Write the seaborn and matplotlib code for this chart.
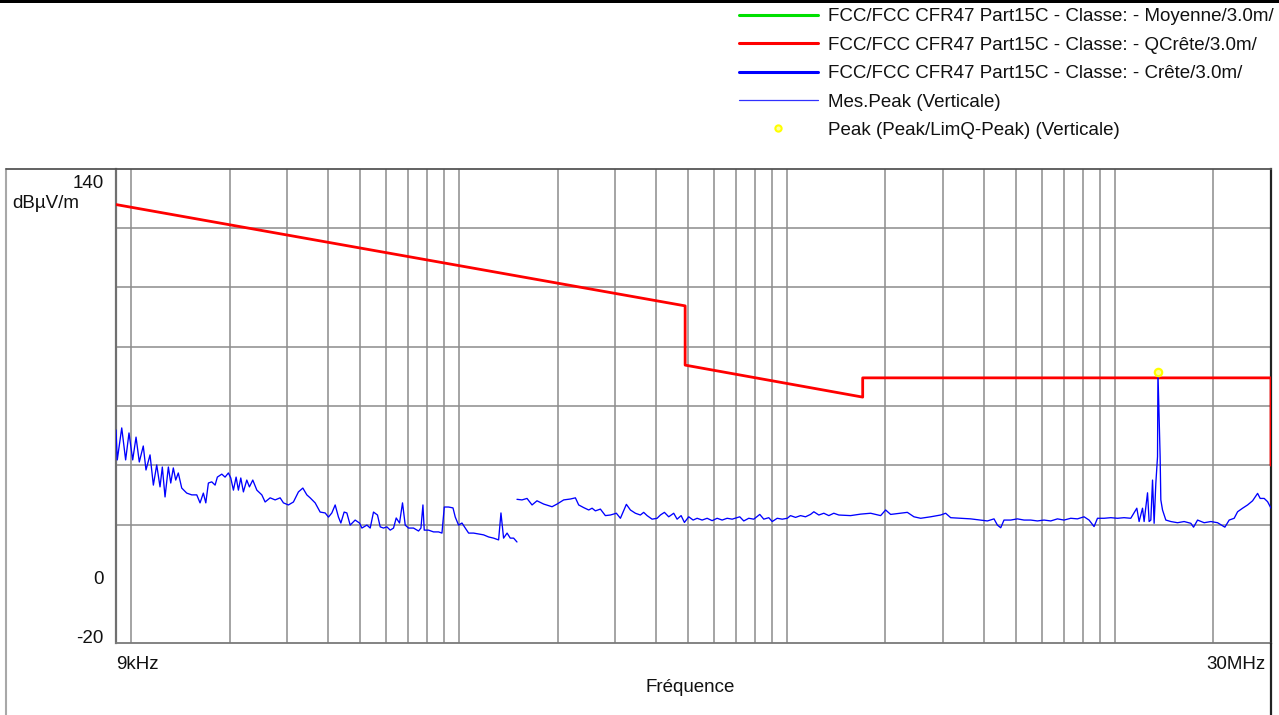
import numpy as np
import pandas as pd
import matplotlib
matplotlib.use("Agg")
import matplotlib.pyplot as plt
import matplotlib.transforms as mtransforms
import seaborn as sns
from matplotlib.lines import Line2D
from matplotlib.patches import Rectangle
from matplotlib.ticker import FixedLocator, LogLocator, MultipleLocator, NullFormatter

# ---------------- data ----------------
# FCC Part 15C quasi-peak limit (frequency in kHz, level in dBuV/m)
limit_freq_khz = [9, 490, 490, 1705, 1705, 30000, 30000]
limit_qpeak = [128.0, 93.8, 73.8, 63.0, 69.5, 69.5, 40.0]

# measured peak trace, band 9 kHz - 150 kHz
seg1_freq = [9.00, 9.08, 9.37, 9.63, 9.86, 10.12, 10.36, 10.60, 10.90, 11.11,
             11.43, 11.70, 11.98, 12.26, 12.46, 12.70, 13.00, 13.22, 13.46, 13.69,
             13.94, 14.28, 14.79, 15.32, 15.87, 16.24, 16.62, 16.91, 17.22, 17.63,
             18.05, 18.34, 18.92, 19.36, 19.82, 20.15, 20.53, 20.92, 21.26, 21.62,
             22.02, 22.55, 22.97, 23.52, 24.20, 25.06, 25.65, 26.57, 27.52, 28.50,
             29.17, 30.21, 31.29, 32.41, 33.43, 34.38, 35.19, 36.45, 37.75, 39.10,
             40.02, 40.98, 41.95, 42.93, 43.66, 44.68, 45.54, 46.61, 48.27, 49.76,
             50.61, 52.42, 53.65, 54.91, 56.47, 57.56, 58.91, 60.33, 61.75, 63.20,
             64.41, 65.92, 67.32, 68.61, 70.22, 72.73, 75.33, 76.62, 77.70, 78.41,
             80.82, 83.71, 86.71, 88.81, 90.27, 93.04, 95.96, 97.51, 99.80, 102.2,
             104.6, 107.1, 110.9, 114.9, 119.0, 123.2, 127.6, 132.2, 134.4, 136.9,
             140.3, 143.5, 146.9, 150.4]
seg1_level = [51.9, 41.8, 52.6, 41.8, 50.9, 41.8, 49.5, 41.1, 46.5, 38.4,
              43.5, 33.3, 40.1, 32.7, 39.4, 29.3, 39.4, 34.0, 39.1, 35.0,
              37.4, 32.3, 30.6, 30.0, 30.0, 27.3, 30.6, 27.3, 34.0, 34.4,
              33.3, 36.0, 37.0, 36.0, 37.4, 35.7, 31.6, 36.0, 31.6, 35.7,
              31.0, 35.0, 32.7, 35.0, 31.6, 30.0, 27.6, 29.0, 28.3, 29.0,
              27.3, 26.6, 27.6, 31.0, 32.3, 30.0, 29.0, 27.3, 24.2, 23.9,
              22.5, 23.9, 26.6, 22.5, 20.5, 24.2, 23.9, 19.8, 21.5, 20.5,
              18.8, 19.8, 18.8, 24.2, 23.2, 19.2, 18.8, 19.2, 18.1, 18.8,
              22.2, 20.5, 27.3, 19.8, 18.8, 18.8, 17.8, 18.8, 26.6, 18.1,
              18.1, 17.5, 17.5, 17.1, 25.9, 25.9, 25.6, 22.5, 19.8, 20.5,
              18.8, 17.1, 17.1, 16.8, 16.5, 15.8, 15.4, 14.8, 23.9, 15.4,
              17.1, 15.4, 15.4, 14.1]

# measured peak trace, band 150 kHz - 30 MHz
seg2_freq = [150.4, 155.8, 161.4, 167.2, 173.1, 181.4, 192.4, 199.3, 208.8, 218.8,
             226.7, 232.0, 240.3, 248.9, 254.9, 260.9, 270.2, 279.8, 289.8, 302.3,
             311.0, 324.3, 333.6, 345.5, 357.8, 366.2, 375.1, 388.5, 402.4, 411.8,
             423.6, 436.6, 452.2, 463.1, 476.3, 487.5, 502.5, 518.3, 533.0, 552.1,
             571.9, 592.3, 613.5, 635.4, 658.1, 681.7, 719.1, 739.6, 766.0, 793.4,
             827.6, 851.2, 881.6, 903.2, 935.4, 968.9, 1004, 1027, 1064, 1102,
             1141, 1182, 1210, 1253, 1298, 1344, 1392, 1442,
             1566, 1680, 1803, 1934, 2003, 2075, 2226, 2333, 2444, 2562, 2748, 2948,
             3053, 3163, 3392, 3640, 3905, 4093, 4288, 4392, 4495, 4600,
             4821, 5054, 5295, 5549, 5817, 6093, 6387, 6695, 7013, 7351,
             7705, 8071, 8360, 8659, 8869, 9289, 9737, 10205, 10689, 11205,
             11691, 11881, 12168, 12306, 12604, 12746, 12900, 13055, 13202, 13361,
             13521, 13560, 13771, 13838, 14004, 14333, 14846, 15562, 16301, 17087,
             17414, 17911, 18761, 19666, 20614, 21699, 22365, 23165, 23725, 24574,
             25451, 26361, 27304, 27807, 28600, 29291, 30000]
seg2_level = [28.5, 28.3, 28.8, 26.6, 28.0, 26.9, 26.0, 26.9, 28.3, 28.6,
              29.0, 26.6, 25.7, 24.9, 25.5, 24.6, 25.2, 23.0, 23.2, 23.8,
              22.1, 26.8, 24.9, 23.8, 23.2, 24.1, 23.0, 21.8, 22.1, 23.2,
              24.1, 22.6, 23.8, 21.8, 23.0, 20.7, 22.6, 21.5, 22.1, 21.5,
              22.1, 21.3, 22.1, 21.5, 22.1, 21.8, 22.6, 21.2, 22.1, 21.8,
              23.4, 21.8, 22.3, 21.0, 22.1, 21.8, 22.1, 23.0, 22.4, 23.0,
              22.6, 23.4, 24.3, 23.2, 23.8, 23.0, 23.8, 23.2,
              23.0, 23.5, 23.8, 23.0, 24.9, 23.4, 23.8, 24.1, 22.6, 22.1, 22.6, 23.2,
              23.8, 22.3, 22.1, 21.9, 21.5, 21.2, 21.9, 19.8, 18.9, 21.5,
              21.5, 21.9, 21.5, 21.5, 21.2, 21.5, 21.2, 21.9, 21.5, 22.1,
              21.9, 22.6, 21.5, 19.3, 22.1, 22.1, 22.3, 22.1, 22.3, 22.1,
              25.5, 21.0, 25.5, 21.0, 30.7, 21.0, 21.5, 35.0, 20.4, 33.9,
              42.9, 71.6, 42.9, 28.3, 24.9, 21.5, 21.0, 20.6, 21.0, 20.4,
              19.1, 21.5, 20.6, 21.0, 20.6, 19.1, 21.5, 22.1, 24.3, 25.5,
              26.6, 28.0, 30.5, 28.8, 28.8, 27.7, 25.5]

# peak markers
peak_freq = [13560]
peak_level = [71.6]

y_tick_values = [-20, 0, 140]
x_tick_values = [9, 30000]
x_tick_labels = ["9kHz", "30MHz"]

legend_labels = [
    "FCC/FCC CFR47 Part15C - Classe: - Moyenne/3.0m/",
    "FCC/FCC CFR47 Part15C - Classe: - QCrête/3.0m/",
    "FCC/FCC CFR47 Part15C - Classe: - Crête/3.0m/",
    "Mes.Peak (Verticale)",
    "Peak (Peak/LimQ-Peak) (Verticale)",
]

# ---------------- figure ----------------
sns.set_theme(style="white")
FS = 13.5
plt.rcParams['font.family'] = ['Liberation Sans', 'DejaVu Sans']
plt.rcParams['font.size'] = FS

W, H = 1279, 715
fig = plt.figure(figsize=(W / 100, H / 100), dpi=100)
fig.patch.set_facecolor("white")

ax_l, ax_r, ax_t, ax_b = 116, 1271, 169, 643
ax = fig.add_axes([ax_l / W, 1 - ax_b / H, (ax_r - ax_l) / W, (ax_b - ax_t) / H])
ax.set_facecolor("white")

limit_df = pd.DataFrame({"f": limit_freq_khz, "v": limit_qpeak})
sns.lineplot(data=limit_df, x="f", y="v", sort=False, estimator=None,
             color="#ff0000", lw=2.0, ax=ax, zorder=3)

trace_df = pd.concat([
    pd.DataFrame({"f": seg1_freq, "v": seg1_level, "seg": 1}),
    pd.DataFrame({"f": seg2_freq, "v": seg2_level, "seg": 2}),
])
sns.lineplot(data=trace_df, x="f", y="v", units="seg", sort=False, estimator=None,
             color="#0000ff", lw=0.95, ax=ax, zorder=4)

sns.scatterplot(x=peak_freq, y=peak_level, marker="o", s=28, color="#ffffa0",
                edgecolor="#ffff00", linewidth=1.6, ax=ax, zorder=6)

ax.set_xscale("log")
ax.set_xlim(9, 30000)
ax.set_ylim(-20, 140)

# grid
grid_c = "#8c8c8c"
ax.xaxis.set_major_locator(FixedLocator(x_tick_values))
ax.xaxis.set_minor_locator(LogLocator(base=10, subs=np.arange(1, 10), numticks=100))
ax.xaxis.set_minor_formatter(NullFormatter())
ax.set_xticks(x_tick_values)
ax.set_xticklabels(x_tick_labels)
ax.yaxis.set_major_locator(FixedLocator(y_tick_values))
ax.yaxis.set_minor_locator(MultipleLocator(20))
ax.set_yticks(y_tick_values)
ax.set_yticklabels([str(v) for v in y_tick_values])
ax.grid(False)
ax.grid(which="minor", axis="both", color=grid_c, lw=1.1)
ax.set_axisbelow(True)

ax.tick_params(axis="both", which="minor", length=0)
ax.tick_params(axis="x", which="major", length=6.5, width=1.0, color="#303030",
               pad=3, labelsize=FS, labelcolor="#111111")
ax.tick_params(axis="y", which="major", length=5, width=1.0, color="#303030",
               pad=4.0, labelsize=FS, labelcolor="#111111")

for lab in ax.get_xticklabels():
    if lab.get_text() == "9kHz":
        lab.set_ha("left")
    else:
        lab.set_ha("right")
        lab.set_transform(lab.get_transform() +
                          mtransforms.ScaledTranslation(-6 / 100, 0, fig.dpi_scale_trans))
for lab in ax.get_yticklabels():
    if lab.get_text() == "140":
        lab.set_va("top")
        lab.set_transform(lab.get_transform() +
                          mtransforms.ScaledTranslation(0, -6 / 100, fig.dpi_scale_trans))
    else:
        lab.set_va("baseline")
ticks_y = ax.yaxis.get_major_ticks()
for t, v in zip(ticks_y, y_tick_values):
    if v != -20:
        t.tick1line.set_visible(False)
ticks_x = ax.xaxis.get_major_ticks()
ticks_x[1].tick1line.set_visible(False)

ax.set_xlabel("Fréquence", fontsize=FS, color="#111111")
ax.xaxis.set_label_coords((690 - ax_l) / (ax_r - ax_l), (ax_b - 687) / (ax_b - ax_t))
ax.xaxis.label.set_va("center")
ax.set_ylabel("")

for side in ["left", "right", "top", "bottom"]:
    ax.spines[side].set_visible(True)
ax.spines["left"].set_color("#707070")
ax.spines["left"].set_linewidth(1.6)
ax.spines["bottom"].set_color("#7a7a7a")
ax.spines["bottom"].set_linewidth(1.3)
ax.spines["top"].set_color("#555555")
ax.spines["top"].set_linewidth(1.3)
ax.spines["right"].set_color("#222222")
ax.spines["right"].set_linewidth(1.6)

fig.text(12 / W, 1 - 208 / H, "dBµV/m", ha="left", va="baseline", fontsize=FS, color="#111111")

# outer frame
fig.add_artist(Line2D([6 / W, 6 / W], [0, 1 - ax_t / H], transform=fig.transFigure,
                      color="#a8a8a8", lw=1.5))
fig.add_artist(Line2D([6 / W, ax_l / W], [1 - ax_t / H, 1 - ax_t / H], transform=fig.transFigure,
                      color="#555555", lw=1.3))
fig.add_artist(Line2D([ax_r / W, ax_r / W], [0, 1 - ax_b / H], transform=fig.transFigure,
                      color="#222222", lw=1.6))
fig.add_artist(Rectangle((0, 1 - 3 / H), 1, 3 / H, transform=fig.transFigure,
                         color="black", lw=0))

# legend
handles = [
    Line2D([], [], color="#00e000", lw=2.2),
    Line2D([], [], color="#ff0000", lw=2.2),
    Line2D([], [], color="#0000ff", lw=2.2),
    Line2D([], [], color="#3030ff", lw=0.9),
    Line2D([], [], color="none", marker="o", markersize=4.5, markerfacecolor="#ffffa0",
           markeredgecolor="#ffff00", markeredgewidth=1.5, linestyle="none"),
]
fig.legend(handles, legend_labels, loc="upper left",
           bbox_to_anchor=(739 / W, 1 - 8 / H), frameon=False, fontsize=FS,
           handlelength=4.21, handletextpad=0.53, labelspacing=0.605,
           borderpad=0, borderaxespad=0, labelcolor="#111111")

fig.savefig("out.png", dpi=100)
